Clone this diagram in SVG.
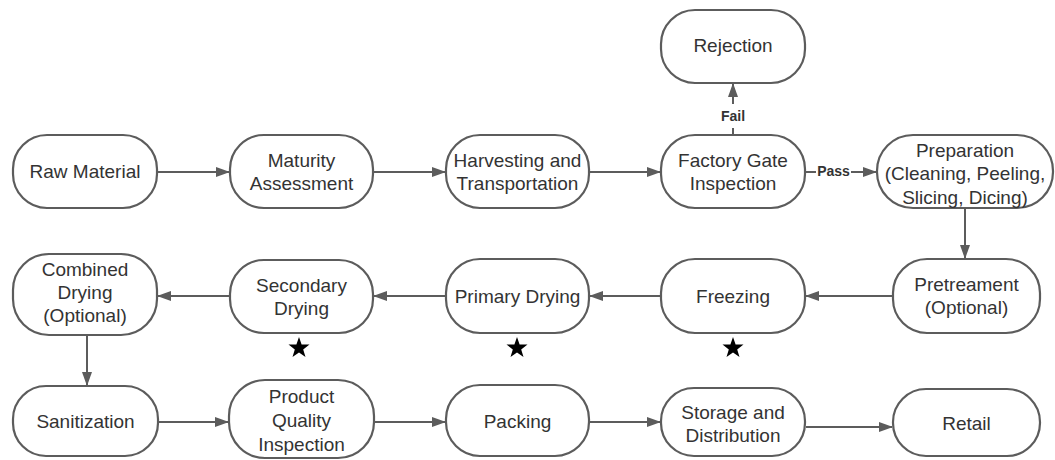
<svg xmlns="http://www.w3.org/2000/svg" width="1055" height="460" viewBox="0 0 1055 460">
<style>
.n{fill:#fff;stroke:#5c5c5c;stroke-width:2.2}
.t{font-family:"Liberation Sans",Arial,sans-serif;font-size:19px;fill:#333;text-anchor:middle;dominant-baseline:central}
.c{stroke:#5c5c5c;stroke-width:2;fill:none;marker-end:url(#ah)}
.l{font-family:"Liberation Sans",Arial,sans-serif;font-size:14px;font-weight:bold;fill:#333;text-anchor:middle;dominant-baseline:central}
.s{fill:#000}
</style>
<defs>
<marker id="ah" markerWidth="14" markerHeight="10" refX="13" refY="5" orient="auto" markerUnits="userSpaceOnUse">
<path d="M0,0 L14,5 L0,10 Z" fill="#5c5c5c"/>
</marker>
<polygon id="star" points="0,-11 2.6,-3.6 10.5,-3.4 4.2,1.4 6.5,9 0,4.5 -6.5,9 -4.2,1.4 -10.5,-3.4 -2.6,-3.6"/>
</defs>
<rect width="1055" height="460" fill="#fff"/>
<g id="connectors">
<line class="c" x1="158" y1="172" x2="229" y2="172"/>
<line class="c" x1="374" y1="172" x2="445" y2="172"/>
<line class="c" x1="590" y1="172" x2="660" y2="172"/>
<line class="c" x1="733" y1="135" x2="733" y2="84"/>
<line class="c" x1="806" y1="172" x2="876" y2="172"/>
<line class="c" x1="965" y1="209" x2="965" y2="258"/>
<line class="c" x1="892" y1="296" x2="806" y2="296"/>
<line class="c" x1="660" y1="296" x2="590" y2="296"/>
<line class="c" x1="445" y1="296" x2="374" y2="296"/>
<line class="c" x1="229" y1="296" x2="158" y2="296"/>
<line class="c" x1="87" y1="336" x2="87" y2="385"/>
<line class="c" x1="159" y1="422" x2="228" y2="422"/>
<line class="c" x1="375" y1="422" x2="445" y2="422"/>
<line class="c" x1="590" y1="422" x2="660" y2="422"/>
<line class="c" x1="806" y1="427" x2="892" y2="427"/>
<rect x="718" y="104" width="30" height="24" fill="#fff"/>
<text class="l" x="733" y="116">Fail</text>
<rect x="816" y="164" width="35" height="16" fill="#fff"/>
<text class="l" x="833.5" y="171">Pass</text>
</g>
<g id="raw"><rect class="n" x="13" y="135" width="144" height="73" rx="34"/><text class="t" x="85" y="171.5">Raw Material</text></g>
<g id="maturity"><rect class="n" x="230" y="135" width="143" height="73" rx="34"/><text class="t" x="301.5" y="160">Maturity</text><text class="t" x="301.5" y="183">Assessment</text></g>
<g id="harvesting"><rect class="n" x="446" y="135" width="143" height="73" rx="34"/><text class="t" x="517.5" y="160">Harvesting and</text><text class="t" x="517.5" y="183">Transportation</text></g>
<g id="factory"><rect class="n" x="661" y="135" width="144" height="73" rx="34"/><text class="t" x="733" y="160">Factory Gate</text><text class="t" x="733" y="183">Inspection</text></g>
<g id="rejection"><rect class="n" x="661" y="10" width="144" height="73" rx="34"/><text class="t" x="733" y="45">Rejection</text></g>
<g id="preparation"><rect class="n" x="877" y="135" width="176" height="73" rx="36"/><text class="t" x="965" y="150">Preparation</text><text class="t" x="965" y="173.5">(Cleaning, Peeling,</text><text class="t" x="965" y="197">Slicing, Dicing)</text></g>
<g id="pretreament"><rect class="n" x="893" y="259" width="147" height="74" rx="34"/><text class="t" x="966.5" y="284">Pretreament</text><text class="t" x="966.5" y="307">(Optional)</text></g>
<g id="freezing"><rect class="n" x="661" y="259" width="144" height="74" rx="34"/><text class="t" x="733" y="296">Freezing</text></g>
<g id="primary"><rect class="n" x="446" y="259" width="143" height="74" rx="34"/><text class="t" x="517.5" y="296">Primary Drying</text></g>
<g id="secondary"><rect class="n" x="230" y="260" width="143" height="73" rx="34"/><text class="t" x="301.5" y="285">Secondary</text><text class="t" x="301.5" y="308">Drying</text></g>
<g id="combined"><rect class="n" x="13" y="254" width="144" height="81" rx="36"/><text class="t" x="85" y="269">Combined</text><text class="t" x="85" y="292">Drying</text><text class="t" x="85" y="315">(Optional)</text></g>
<g id="stars"><use href="#star" class="s" x="299" y="348"/><use href="#star" class="s" x="517" y="348"/><use href="#star" class="s" x="733" y="348"/></g>
<g id="sanitization"><rect class="n" x="13" y="386" width="145" height="70" rx="33"/><text class="t" x="85.5" y="421">Sanitization</text></g>
<g id="quality"><rect class="n" x="229" y="380" width="145" height="78" rx="36"/><text class="t" x="301.5" y="396">Product</text><text class="t" x="301.5" y="420">Quality</text><text class="t" x="301.5" y="444">Inspection</text></g>
<g id="packing"><rect class="n" x="446" y="385" width="143" height="71" rx="34"/><text class="t" x="517.5" y="421">Packing</text></g>
<g id="storage"><rect class="n" x="661" y="388" width="144" height="68" rx="33"/><text class="t" x="733" y="412">Storage and</text><text class="t" x="733" y="435">Distribution</text></g>
<g id="retail"><rect class="n" x="893" y="389" width="147" height="67" rx="33"/><text class="t" x="966.5" y="423">Retail</text></g>
</svg>
